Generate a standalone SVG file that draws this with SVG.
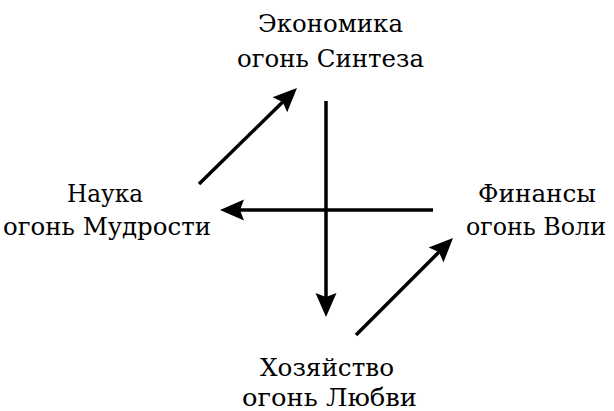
<svg xmlns="http://www.w3.org/2000/svg" width="614" height="411" viewBox="0 0 614 411">
<style>
text{font-family:'DejaVu Serif','Liberation Serif',serif;font-size:25px;fill:#000;text-anchor:middle}
.c{stroke:#000;stroke-width:3.5;fill:none;marker-end:url(#ah)}
</style>
<defs>
<marker id="ah" markerUnits="userSpaceOnUse" markerWidth="26" markerHeight="22" refX="4" refY="11" orient="auto" overflow="visible">
<path d="M0,0.5 L24,11 L0,21.5 L4,11 Z" fill="#000"/>
</marker>
</defs>
<rect width="614" height="411" fill="#fff"/>
<g id="connectors">
<line class="c" x1="326" y1="101" x2="326" y2="297"/>
<line class="c" x1="433" y1="210" x2="240" y2="210"/>
<line class="c" x1="199" y1="184" x2="282.7" y2="102"/>
<line class="c" x1="356" y1="335" x2="438.9" y2="252.1"/>
</g>
<g id="economy"><text x="330.5" y="31.5" textLength="145" lengthAdjust="spacingAndGlyphs">Экономика</text><text x="330.5" y="66.5" textLength="187" lengthAdjust="spacingAndGlyphs">огонь Синтеза</text></g>
<g id="science"><text x="105" y="202" textLength="76" lengthAdjust="spacingAndGlyphs">Наука</text><text x="107" y="235" textLength="208" lengthAdjust="spacingAndGlyphs">огонь Мудрости</text></g>
<g id="finance"><text x="537" y="202" textLength="118" lengthAdjust="spacingAndGlyphs">Финансы</text><text x="536" y="235" font-size="23" textLength="140" lengthAdjust="spacingAndGlyphs">огонь Воли</text></g>
<g id="household"><text x="327" y="376" textLength="134" lengthAdjust="spacingAndGlyphs">Хозяйство</text><text x="329.5" y="406" textLength="175" lengthAdjust="spacingAndGlyphs">огонь Любви</text></g>
</svg>
